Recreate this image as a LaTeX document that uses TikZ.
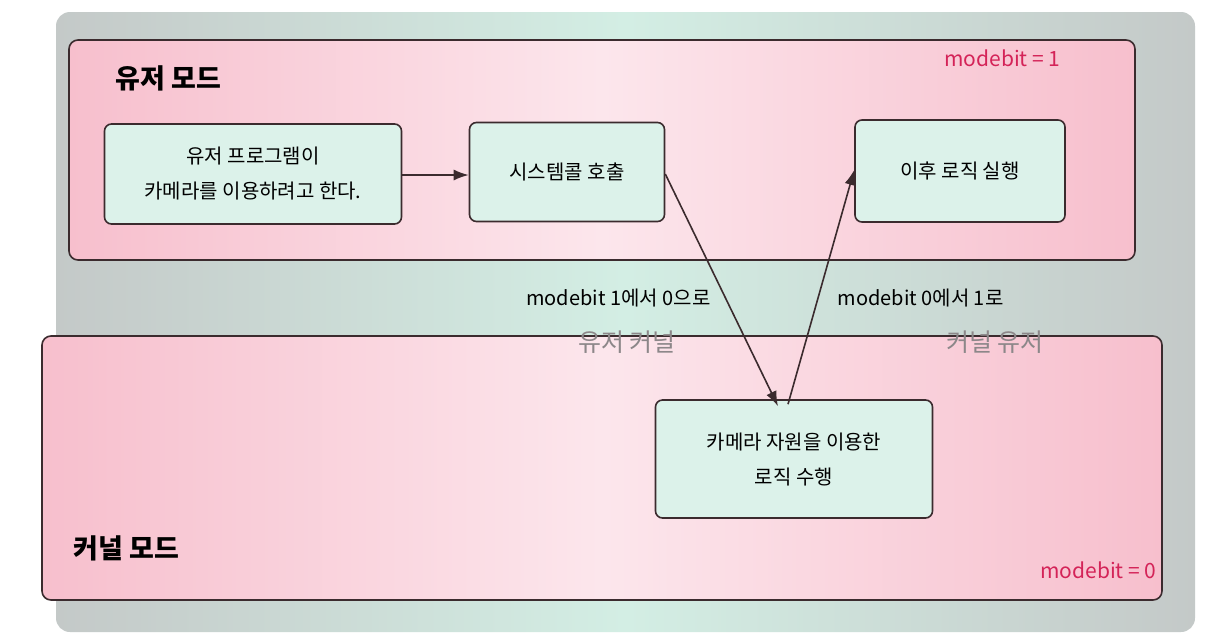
\documentclass[tikz,border=0pt]{standalone}
\usepackage{fontspec}
\setmainfont{Noto Sans CJK KR}
\usetikzlibrary{arrows.meta}
\tikzset{>={Latex[width=11pt,length=15pt]}}
\definecolor{cardgray}{HTML}{C4C9C8}
\definecolor{mint}{HTML}{D3EEE4}
\definecolor{lanepink}{HTML}{F7BFCD}
\definecolor{lanelight}{HTML}{FCE6EC}
\definecolor{boxmint}{HTML}{DCF2EA}
\definecolor{inkline}{HTML}{3B2B2E}
\definecolor{modered}{HTML}{D42358}
\definecolor{pencil}{HTML}{8C8789}
\tikzset{
  lane/.style={draw=inkline, line width=1.6pt, rounded corners=9pt,
    left color=lanepink, right color=lanepink, middle color=lanelight},
  stepbox/.style={draw=inkline, line width=1.6pt, rounded corners=7pt,
    fill=boxmint, align=center, font=\fontsize{20}{35}\selectfont},
  flow/.style={->, draw=inkline, line width=1.6pt},
  modetitle/.style={font=\fontsize{27}{30}\selectfont\bfseries, anchor=west},
  modebit/.style={text=modered, font=\fontsize{21}{24}\selectfont},
  switchlabel/.style={font=\fontsize{20}{24}\selectfont},
  pencilnote/.style={text=pencil, font=\fontsize{25}{28}\selectfont}
}

\begin{document}
\begin{tikzpicture}[x=1pt, y=-1pt]

\useasboundingbox (0,0) rectangle (1206,641);
\fill[white] (0,0) rectangle (1206,641);

%% card behind
\shade[rounded corners=14pt, left color=cardgray, right color=cardgray,
  middle color=mint] (56,12) rectangle (1195,632);

%% the two modes
\node[lane, minimum width=1066pt, minimum height=220pt] (user) at (602,150) {};
\node[lane, minimum width=1120pt, minimum height=264pt] (kernel) at (602,468) {};

\node[modetitle] (usertitle) at (112,78) {유저 모드};
\node[modetitle] (kerneltitle) at (70,548) {커널 모드};
\node[modebit, anchor=east] (userbit) at (1064,58) {modebit = 1};
\node[modebit, anchor=east] (kernelbit) at (1160,570) {modebit = 0};

%% steps
\node[stepbox, minimum width=297pt, minimum height=100pt] (prog)
  at (253,174) {유저 프로그램이\\카메라를 이용하려고 한다.};
\node[stepbox, minimum width=195pt, minimum height=99pt] (syscall)
  at (567,172) {시스템콜 호출};
\node[stepbox, minimum width=210pt, minimum height=102pt] (after)
  at (960,171) {이후 로직 실행};
\node[stepbox, minimum width=277pt, minimum height=118pt] (camera)
  at (794,459) {카메라 자원을 이용한\\로직 수행};

\draw[flow] ([yshift=-1pt]prog.east) -- ([yshift=-1pt]prog.east -| syscall.west);
\draw[flow] ([yshift=-2pt]syscall.east) -- ([xshift=-16pt,yshift=-7pt]camera.north);
\draw[flow] ([xshift=-6pt,yshift=-5pt]camera.north) -- ([yshift=1pt]after.west);

%% labels of the switches
\node[switchlabel, anchor=east] (downlabel) at (714,298) {modebit 1에서 0으로};
\node[switchlabel, anchor=west] (uplabel) at (834,298) {modebit 0에서 1로};
\node[pencilnote] (downnote) at (627,342) {유저 커널};
\node[pencilnote] (upnote) at (995,342) {커널 유저};

\end{tikzpicture}
\end{document}
